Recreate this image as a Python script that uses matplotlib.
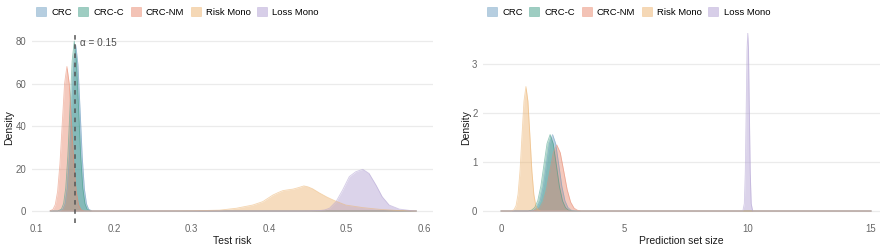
import matplotlib
matplotlib.use("Agg")
import matplotlib.pyplot as plt
from matplotlib.patches import Patch

plt.rcParams['font.family'] = ['Liberation Sans', 'DejaVu Sans']

methods = ["CRC", "CRC-C", "CRC-NM", "Risk Mono", "Loss Mono"]
colors = ["#6f9fc2", "#3f9c86", "#e8896e", "#ecb36f", "#b09fd2"]

# ---- Left panel: density of test risk ----
risk_crc_x = [0.118, 0.130, 0.1345, 0.13725, 0.140, 0.14275, 0.1455, 0.14825, 0.151, 0.15375, 0.1565, 0.15925, 0.162, 0.16475, 0.1675, 0.172, 0.59]
risk_crc_y = [0, 0, 0.9, 3.4, 10.5, 25.4, 47.3, 68.8, 78.0, 68.8, 47.3, 25.4, 10.5, 3.4, 0.9, 0, 0]
risk_crcc_x = [0.118, 0.128, 0.1325, 0.13525, 0.138, 0.14075, 0.1435, 0.14625, 0.149, 0.15175, 0.1545, 0.15725, 0.160, 0.16275, 0.1655, 0.170, 0.59]
risk_crcc_y = [0, 0, 0.9, 3.5, 10.8, 26.0, 48.5, 70.6, 80.0, 70.6, 48.5, 26.0, 10.8, 3.5, 0.9, 0, 0]
risk_crcnm_x = [0.118, 0.1215, 0.1245, 0.1275, 0.1305, 0.1335, 0.1365, 0.1395, 0.1425, 0.1455, 0.1485, 0.1515, 0.1545, 0.1575, 0.1605, 0.164, 0.59]
risk_crcnm_y = [0.15, 0.75, 3.0, 9.2, 22.1, 41.2, 60.0, 68.0, 60.0, 41.2, 22.1, 9.2, 3.0, 0.75, 0.15, 0, 0]
risk_rm_x = [0.118, 0.25, 0.30, 0.3365, 0.358, 0.379, 0.392, 0.405, 0.412, 0.418, 0.425, 0.431, 0.438, 0.445, 0.450, 0.456, 0.465, 0.475, 0.485, 0.499, 0.521, 0.542, 0.564, 0.59]
risk_rm_y = [0, 0, 0.1, 0.4, 1.3, 2.8, 4.4, 7.5, 8.7, 9.6, 10.0, 10.3, 11.0, 11.8, 11.4, 10.5, 8.5, 6.5, 4.8, 2.8, 1.6, 0.8, 0.3, 0]
risk_lm_x = [0.118, 0.445, 0.455, 0.465, 0.472, 0.478, 0.4865, 0.495, 0.5036, 0.512, 0.521, 0.529, 0.538, 0.546, 0.555, 0.568, 0.585, 0.59]
risk_lm_y = [0, 0, 0.05, 0.2, 0.5, 1.3, 4.4, 9.9, 16.2, 18.5, 19.6, 17.7, 12.2, 6.7, 2.8, 0.9, 0.1, 0]

# ---- Right panel: density of prediction set size ----
size_crc_x = [0, 1.2, 1.34, 1.465, 1.59, 1.715, 1.84, 1.965, 2.09, 2.215, 2.34, 2.465, 2.59, 2.715, 2.84, 3.0, 15]
size_crc_y = [0, 0, 0.017, 0.068, 0.211, 0.507, 0.946, 1.377, 1.56, 1.377, 0.946, 0.507, 0.211, 0.068, 0.017, 0, 0]
size_crcc_x = [0, 1.1, 1.24, 1.365, 1.49, 1.615, 1.74, 1.865, 1.99, 2.115, 2.24, 2.365, 2.49, 2.615, 2.74, 2.9, 15]
size_crcc_y = [0, 0, 0.017, 0.068, 0.211, 0.507, 0.946, 1.377, 1.56, 1.377, 0.946, 0.507, 0.211, 0.068, 0.017, 0, 0]
size_crcnm_x = [0, 1.28, 1.42, 1.56, 1.70, 1.84, 1.98, 2.12, 2.26, 2.40, 2.54, 2.68, 2.82, 2.96, 3.10, 3.25, 15]
size_crcnm_y = [0, 0, 0.015, 0.059, 0.183, 0.438, 0.819, 1.191, 1.35, 1.191, 0.819, 0.438, 0.183, 0.059, 0.015, 0, 0]
size_rm_x = [0, 0.42, 0.53, 0.61, 0.69, 0.77, 0.85, 0.93, 1.01, 1.09, 1.17, 1.25, 1.33, 1.41, 1.49, 1.6, 15]
size_rm_y = [0, 0, 0.028, 0.11, 0.34, 0.82, 1.54, 2.24, 2.54, 2.24, 1.54, 0.82, 0.34, 0.11, 0.028, 0, 0]
size_lm_x = [0, 9.80, 9.86, 9.90, 9.94, 9.97, 10.0, 10.03, 10.06, 10.10, 10.14, 10.20, 15]
size_lm_y = [0, 0, 0.15, 0.8, 2.2, 3.3, 3.64, 3.3, 2.2, 0.8, 0.15, 0, 0]

alpha_level = 0.15

left_x_ticks = [0.1, 0.2, 0.3, 0.4, 0.5, 0.6]
left_x_labels = ["0.1", "0.2", "0.3", "0.4", "0.5", "0.6"]
left_y_ticks = [0, 20, 40, 60, 80]
right_x_ticks = [0, 5, 10, 15]
right_y_ticks = [0, 1, 2, 3]

fig = plt.figure(figsize=(8.96, 2.48), dpi=100)
axL = fig.add_axes([32/896, 1-222.5/248, 401/896, 190/248])
axR = fig.add_axes([483/896, 1-222.5/248, 397/896, 190/248])

left_series = [(risk_crc_x, risk_crc_y), (risk_crcc_x, risk_crcc_y), (risk_crcnm_x, risk_crcnm_y),
               (risk_rm_x, risk_rm_y), (risk_lm_x, risk_lm_y)]
right_series = [(size_crc_x, size_crc_y), (size_crcc_x, size_crcc_y), (size_crcnm_x, size_crcnm_y),
                (size_rm_x, size_rm_y), (size_lm_x, size_lm_y)]

tick_col = "#666666"
grid_col = "#ebebeb"

for ax, series in [(axL, left_series), (axR, right_series)]:
    for (xs, ys), c in zip(series, colors):
        ax.fill_between(xs, 0, ys, color=c, alpha=0.45, linewidth=0, zorder=2)
        ax.plot(xs, ys, color=c, alpha=0.55, linewidth=0.6, zorder=3)
    for s in ax.spines.values():
        s.set_visible(False)
    ax.tick_params(axis='both', length=0, labelsize=6.9, labelcolor=tick_col, pad=4)
    ax.tick_params(axis='x', pad=1.2)
    ax.set_facecolor("white")

axL.set_xlim(0.0945, 0.6115)
axL.set_ylim(-5.41, 84.0)
axL.set_xticks(left_x_ticks)
axL.set_xticklabels(left_x_labels)
axL.set_yticks(left_y_ticks)
for v in left_y_ticks:
    axL.axhline(v, color=grid_col, linewidth=0.9, zorder=0)
axL.axvline(alpha_level, color="#555555", linewidth=1.1, linestyle=(0, (3, 3)), zorder=4)
axL.text(alpha_level + 0.006, 79, "α = 0.15", fontsize=7.2, color="#4d4d4d", ha="left", va="center", zorder=5)
axL.set_xlabel("Test risk", fontsize=7.5, color="#1a1a1a", labelpad=1.5)
axL.set_ylabel("Density", fontsize=7.5, color="#1a1a1a", labelpad=1)

axR.set_xlim(-0.73, 15.36)
axR.set_ylim(-0.235, 3.643)
axR.set_xticks(right_x_ticks)
axR.set_yticks(right_y_ticks)
for v in right_y_ticks:
    axR.axhline(v, color=grid_col, linewidth=0.9, zorder=0)
axR.set_xlabel("Prediction set size", fontsize=7.5, color="#1a1a1a", labelpad=1.5)
axR.set_ylabel("Density", fontsize=7.5, color="#1a1a1a", labelpad=1)

handles = [Patch(facecolor=c, edgecolor=c, alpha=0.5, linewidth=0.5) for c in colors]
for ax, x0 in [(axL, 36/896), (axR, 487/896)]:
    fig.legend(handles, methods, loc="center left", bbox_to_anchor=(x0, 1-12/248), ncol=5,
               frameon=False, fontsize=6.8, handlelength=1.05, handleheight=1.05, handletextpad=0.55,
               columnspacing=0.7, borderaxespad=0, borderpad=0)

fig.savefig("out.png", dpi=100, facecolor="white")
